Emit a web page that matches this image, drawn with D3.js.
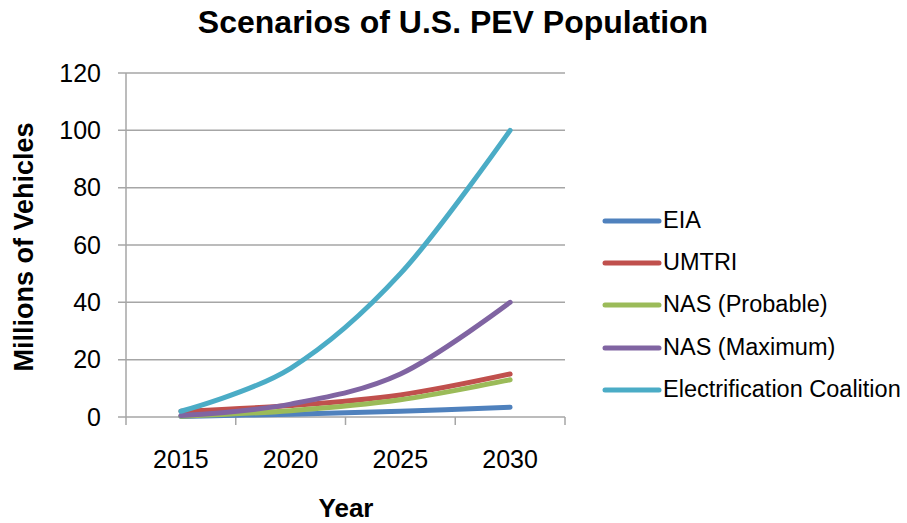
<!DOCTYPE html>
<html>
<head>
<meta charset="utf-8">
<script src="https://cdn.jsdelivr.net/npm/d3@7"></script>
<style>
  body { margin: 0; background: #fff; }
  text { font-family: "Liberation Sans", Arial, sans-serif; fill: #000; }
</style>
</head>
<body>
<svg id="chart" width="907" height="523"></svg>
<script>
var years = ["2015", "2020", "2025", "2030"];
var seriesNames = ["EIA", "UMTRI", "NAS (Probable)", "NAS (Maximum)", "Electrification Coalition"];
var eia = [0.2, 1, 2, 3.4];
var umtri = [2, 4, 7.7, 15];
var nasProbable = [0.3, 2.2, 6, 13];
var nasMaximum = [0.5, 4.5, 15, 40];
var electrification = [2, 17, 50, 100];
var yTicks = [0, 20, 40, 60, 80, 100, 120];

var colors = ["#4F81BD", "#C0504D", "#9BBB59", "#8064A2", "#4BACC6"];
var allSeries = [eia, umtri, nasProbable, nasMaximum, electrification];

var svg = d3.select("#chart");
var margin = {top: 73, left: 126, right: 342, bottom: 106};
var width = 907 - margin.left - margin.right;
var height = 523 - margin.top - margin.bottom;

var g = svg.append("g")
    .attr("transform", "translate(" + margin.left + "," + margin.top + ")");

var x = d3.scaleBand().domain(years).range([0, width]);
var y = d3.scaleLinear().domain([0, 120]).range([height, 0]);

// gridlines
g.selectAll(".grid")
    .data(yTicks)
    .enter().append("line")
    .attr("x1", -8)
    .attr("x2", width)
    .attr("y1", function (d) { return y(d); })
    .attr("y2", function (d) { return y(d); })
    .attr("stroke", "#a6a6a6")
    .attr("stroke-width", 1.5);

// y axis
var yAxis = g.append("g")
    .call(d3.axisLeft(y).tickValues(yTicks).tickSize(0).tickPadding(25));
yAxis.select(".domain").remove();
yAxis.selectAll("text")
    .style("font-size", "25px")
    .style("font-family", "'Liberation Sans', Arial, sans-serif")
    .attr("fill", "#000");

g.append("line")
    .attr("x1", 0).attr("x2", 0)
    .attr("y1", 0).attr("y2", height)
    .attr("stroke", "#a6a6a6")
    .attr("stroke-width", 1.5);

// x axis
var xAxis = g.append("g")
    .attr("transform", "translate(0," + height + ")")
    .call(d3.axisBottom(x).tickSize(0));
xAxis.select(".domain").remove();
xAxis.selectAll("text")
    .attr("y", 51)
    .attr("dy", 0)
    .style("font-size", "25px")
    .style("font-family", "'Liberation Sans', Arial, sans-serif")
    .attr("fill", "#000");

var bounds = years.map(function (d) { return x(d); }).concat([width]);
g.selectAll(".xtick")
    .data(bounds)
    .enter().append("line")
    .attr("x1", function (d) { return d; })
    .attr("x2", function (d) { return d; })
    .attr("y1", height)
    .attr("y2", height + 8)
    .attr("stroke", "#a6a6a6")
    .attr("stroke-width", 1.5);

// lines
var line = d3.line()
    .x(function (d, i) { return x(years[i]) + x.bandwidth() / 2; })
    .y(function (d) { return y(d); })
    .curve(d3.curveCardinal.tension(0));

g.selectAll(".series")
    .data(allSeries)
    .enter().append("path")
    .attr("d", line)
    .attr("fill", "none")
    .attr("stroke", function (d, i) { return colors[i]; })
    .attr("stroke-width", 5)
    .attr("stroke-linecap", "round");

// titles
svg.append("text")
    .attr("x", 453)
    .attr("y", 33)
    .attr("text-anchor", "middle")
    .style("font-size", "32px")
    .style("font-weight", "bold")
    .text("Scenarios of U.S. PEV Population");

svg.append("text")
    .attr("transform", "translate(33," + 247 + ") rotate(-90)")
    .attr("text-anchor", "middle")
    .style("font-size", "27px")
    .style("font-weight", "bold")
    .text("Millions of Vehicles");

svg.append("text")
    .attr("x", 346)
    .attr("y", 517)
    .attr("text-anchor", "middle")
    .style("font-size", "26px")
    .style("font-weight", "bold")
    .text("Year");

// legend
var legendY = [221, 263, 305, 348, 390];
var legend = svg.selectAll(".legend")
    .data(seriesNames)
    .enter().append("g")
    .attr("transform", function (d, i) { return "translate(605," + legendY[i] + ")"; });

legend.append("line")
    .attr("x1", 0).attr("x2", 54)
    .attr("stroke", function (d, i) { return colors[i]; })
    .attr("stroke-width", 5)
    .attr("stroke-linecap", "round");

legend.append("text")
    .attr("x", 58)
    .attr("y", 7)
    .style("font-size", "23.5px")
    .text(function (d) { return d; });
</script>
</body>
</html>
